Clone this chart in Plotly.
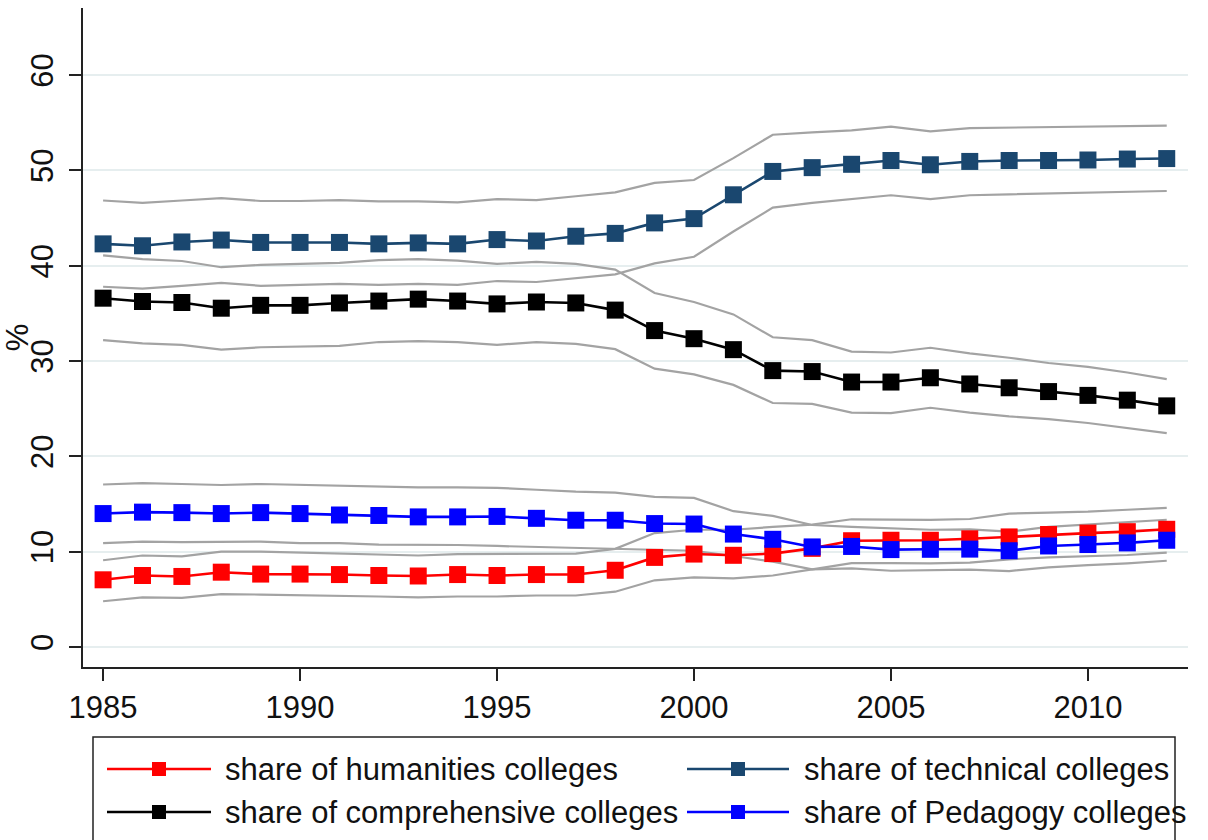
import plotly.graph_objects as go

# Years covered
years = list(range(1985, 2013))

# Shares (%) by college type, with lower / upper bounds
humanities = [7.05, 7.5, 7.4, 7.85, 7.65, 7.65, 7.6, 7.5, 7.45, 7.6, 7.5, 7.6, 7.6, 8.05,
              9.4, 9.75, 9.62, 9.8, 10.35, 11.15, 11.2, 11.2, 11.35, 11.55, 11.8, 11.95, 12.1, 12.35]
hum_hi = [9.1, 9.6, 9.5, 10.0, 10.0, 9.9, 9.8, 9.65, 9.6, 9.75, 9.75, 9.75, 9.8, 10.3,
          11.95, 12.3, 12.3, 12.6, 12.85, 13.4, 13.35, 13.33, 13.43, 14.0, 14.1, 14.2, 14.4, 14.6]
hum_lo = [4.8, 5.2, 5.15, 5.55, 5.5, 5.45, 5.4, 5.3, 5.2, 5.3, 5.3, 5.4, 5.4, 5.8,
          7.0, 7.3, 7.2, 7.5, 8.15, 8.8, 8.8, 8.78, 8.85, 9.2, 9.4, 9.55, 9.65, 9.9]

technical = [42.3, 42.1, 42.5, 42.7, 42.45, 42.45, 42.45, 42.3, 42.4, 42.3, 42.75, 42.6, 43.1, 43.4,
             44.5, 44.95, 47.45, 49.9, 50.3, 50.65, 51.05, 50.6, 50.95, 51.05, 51.05, 51.1, 51.2, 51.25]
tech_hi = [46.85, 46.6, 46.85, 47.1, 46.8, 46.8, 46.9, 46.75, 46.75, 46.65, 47.0, 46.9, 47.3, 47.7,
           48.7, 49.0, 51.3, 53.75, 54.0, 54.2, 54.6, 54.1, 54.45, 54.5, 54.5, 54.55, 54.6, 54.7]
tech_lo = [37.8, 37.6, 37.9, 38.2, 37.9, 38.0, 38.1, 38.0, 38.1, 38.0, 38.4, 38.3, 38.7, 39.1,
           40.25, 40.95, 43.6, 46.1, 46.6, 47.0, 47.4, 47.0, 47.4, 47.5, 47.6, 47.7, 47.8, 47.85]

comprehensive = [36.6, 36.25, 36.15, 35.55, 35.85, 35.85, 36.1, 36.3, 36.5, 36.3, 36.0, 36.2, 36.1, 35.35,
                 33.2, 32.35, 31.2, 29.0, 28.9, 27.8, 27.8, 28.25, 27.6, 27.2, 26.8, 26.4, 25.9, 25.3]
comp_hi = [41.1, 40.7, 40.5, 39.85, 40.1, 40.2, 40.3, 40.6, 40.7, 40.55, 40.2, 40.4, 40.2, 39.6,
           37.15, 36.2, 34.9, 32.5, 32.2, 31.0, 30.9, 31.4, 30.8, 30.35, 29.8, 29.4, 28.8, 28.1]
comp_lo = [32.2, 31.85, 31.7, 31.2, 31.45, 31.5, 31.6, 32.0, 32.1, 32.0, 31.7, 32.0, 31.8, 31.25,
           29.2, 28.6, 27.5, 25.6, 25.5, 24.6, 24.55, 25.1, 24.6, 24.2, 23.9, 23.5, 23.0, 22.45]

pedagogy = [14.0, 14.15, 14.1, 14.0, 14.1, 14.0, 13.85, 13.8, 13.65, 13.65, 13.7, 13.5, 13.3, 13.3,
            12.95, 12.9, 11.85, 11.3, 10.5, 10.55, 10.22, 10.25, 10.27, 10.1, 10.6, 10.75, 10.92, 11.2]
ped_hi = [17.05, 17.2, 17.1, 17.0, 17.1, 17.0, 16.9, 16.85, 16.75, 16.75, 16.7, 16.5, 16.3, 16.2,
          15.75, 15.65, 14.25, 13.75, 12.8, 12.6, 12.45, 12.3, 12.35, 12.1, 12.6, 12.85, 13.05, 13.35]
ped_lo = [10.9, 11.05, 11.0, 11.0, 11.05, 10.9, 10.9, 10.75, 10.75, 10.7, 10.6, 10.5, 10.4, 10.3,
          10.2, 10.1, 9.55, 8.95, 8.15, 8.25, 8.0, 8.05, 8.12, 7.97, 8.35, 8.6, 8.78, 9.05]

x_ticks = [1985, 1990, 1995, 2000, 2005, 2010]
y_ticks = [0, 10, 20, 30, 40, 50, 60]

labels = {
    "hum": "share of humanities colleges",
    "tech": "share of technical colleges",
    "comp": "share of comprehensive colleges",
    "ped": "share of Pedagogy colleges",
}
colors = {"hum": "#ff0000", "tech": "#1a476f", "comp": "#000000", "ped": "#0000ff"}

FONT = "Liberation Sans, Arial, Helvetica, sans-serif"
FS = 31
W, H = 1208, 840
L, R, T, B = 83, 1188, 8, 667  # plot area in pixels

fig = go.Figure()

# Grey bound lines
for band in [tech_hi, tech_lo, comp_hi, comp_lo, ped_hi, ped_lo, hum_hi, hum_lo]:
    fig.add_trace(go.Scatter(x=years, y=band, mode="lines",
                             line=dict(color="#a3a3a3", width=2.2),
                             showlegend=False, hoverinfo="skip"))

# Main series
series = [("hum", humanities), ("comp", comprehensive), ("tech", technical), ("ped", pedagogy)]
for key, vals in series:
    fig.add_trace(go.Scatter(x=years, y=vals, mode="lines+markers", name=labels[key],
                             line=dict(color=colors[key], width=2.6),
                             marker=dict(symbol="square", size=17, color=colors[key]),
                             showlegend=False))

# Manual legend below the plot
def px_x(p):
    return (p - L) / (R - L)

def px_y(p):
    return (B - p) / (B - T)

shapes = [dict(type="rect", xref="paper", yref="paper",
               x0=px_x(93), x1=px_x(1175), y0=px_y(737), y1=px_y(860),
               line=dict(color="#222222", width=1.5), fillcolor="rgba(0,0,0,0)")]
annotations = []
entries = [
    ("hum", 107, 211, 223, 769),
    ("tech", 687, 789, 802, 769),
    ("comp", 107, 211, 223, 812),
    ("ped", 687, 789, 802, 812),
]
for key, x0, x1, tx, yc in entries:
    shapes.append(dict(type="line", xref="paper", yref="paper",
                       x0=px_x(x0), x1=px_x(x1), y0=px_y(yc), y1=px_y(yc),
                       line=dict(color=colors[key], width=2.6)))
    mx = (x0 + x1) / 2
    shapes.append(dict(type="rect", xref="paper", yref="paper",
                       x0=px_x(mx - 7), x1=px_x(mx + 7), y0=px_y(yc + 7), y1=px_y(yc - 7),
                       line=dict(width=0), fillcolor=colors[key]))
    annotations.append(dict(x=px_x(tx), y=px_y(yc), xref="paper", yref="paper",
                            text=labels[key], showarrow=False, xanchor="left", yanchor="middle",
                            font=dict(family=FONT, size=FS, color="#111111")))

fig.update_layout(
    width=W, height=H,
    margin=dict(l=L, r=W - R, t=T, b=H - B, pad=0),
    paper_bgcolor="white", plot_bgcolor="white",
    font=dict(family=FONT, size=FS, color="#111111"),
    shapes=shapes, annotations=annotations,
    showlegend=False,
)
fig.update_xaxes(range=[1984.49, 2012.54], tickvals=x_ticks, ticks="outside", ticklen=12,
                 tickwidth=1.5, tickcolor="#222222", showline=True, linecolor="#222222",
                 linewidth=1.5, showgrid=False, zeroline=False, automargin=False,
                 tickfont=dict(family=FONT, size=FS, color="#111111"))
fig.update_yaxes(range=[-2.1, 67.05], tickvals=y_ticks, ticks="outside", ticklen=12,
                 tickwidth=1.5, tickcolor="#222222", showline=True, linecolor="#222222",
                 linewidth=1.5, showgrid=True, gridcolor="#e6eeef", gridwidth=1.5,
                 zeroline=False, tickangle=-90, ticklabelstandoff=4, automargin=False,
                 tickfont=dict(family=FONT, size=FS, color="#111111"),
                 title=dict(text="%", font=dict(family=FONT, size=FS, color="#111111"), standoff=2))

fig.write_html("out.html")
